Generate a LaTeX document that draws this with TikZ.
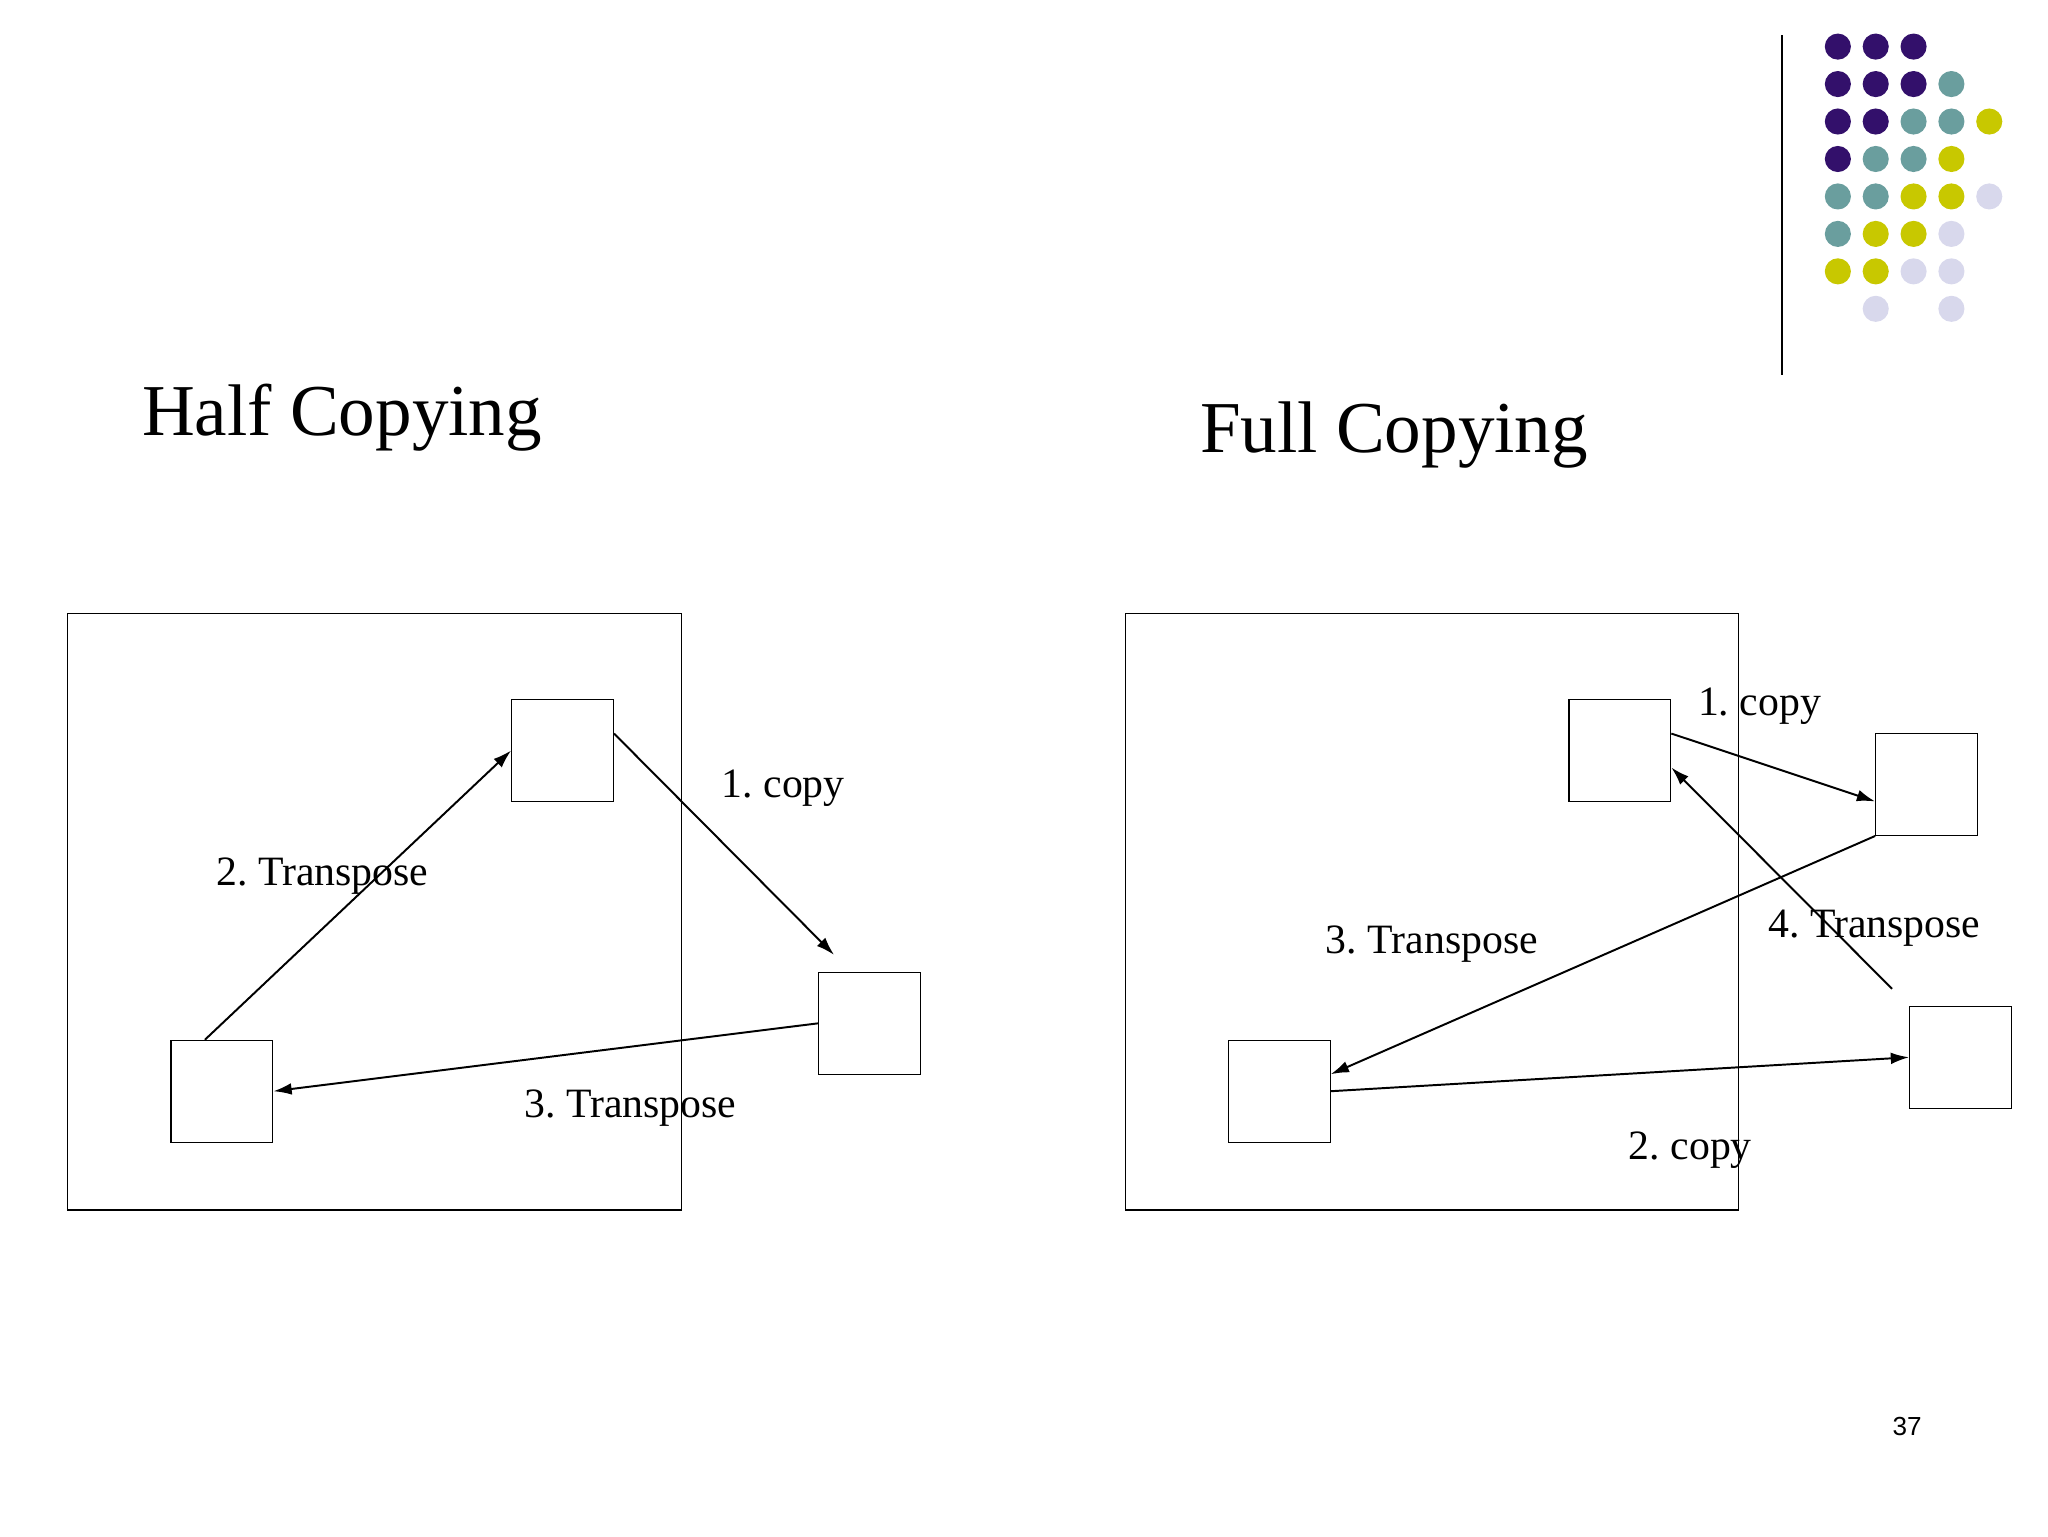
\documentclass[tikz,border=0pt]{standalone}
\usepackage{fontspec}
\setmainfont{Liberation Serif}
\newfontfamily\pagefont{Liberation Sans}
\frenchspacing
\usetikzlibrary{arrows.meta}
\definecolor{dpurple}{HTML}{33106B}
\definecolor{dteal}{HTML}{6A9E9E}
\definecolor{dyellow}{HTML}{C8C800}
\definecolor{dlav}{HTML}{D8D8EC}
\begin{document}
\begin{tikzpicture}[x=1pt, y=-1pt, thick,
	cell/.style = {draw, line width=0.9pt, minimum size=78pt, inner sep=0pt},
	frame/.style = {draw, line width=0.9pt, minimum width=470pt, minimum height=457pt, inner sep=0pt},
	lbl/.style = {font=\fontsize{32}{34}\selectfont},
	title/.style = {font=\fontsize{56}{60}\selectfont},
	arr/.style = {-{Latex[length=14pt,width=9pt]}, line width=1.5pt}]
	\useasboundingbox (0,0) rectangle (1569,1177);

	% dots
	\foreach \c [count=\r] in {{1,1,1,0,0},{1,1,1,2,0},{1,1,2,2,3},{1,2,2,3,0},{2,2,3,3,4},{2,3,3,4,0},{3,3,4,4,0},{0,4,0,4,0}}
		\foreach \k [count=\i] in \c {
			\ifnum\k=1 \fill[dpurple] (1379+29*\i, 7+28.7*\r) circle (10);\fi
			\ifnum\k=2 \fill[dteal] (1379+29*\i, 7+28.7*\r) circle (10);\fi
			\ifnum\k=3 \fill[dyellow] (1379+29*\i, 7+28.7*\r) circle (10);\fi
			\ifnum\k=4 \fill[dlav] (1379+29*\i, 7+28.7*\r) circle (10);\fi
		};
	\coordinate (t) at (1365,27);
	\coordinate (b) at (1365,287);
	\draw[line width=1.5pt] (t) -- (b);

	\node[title] (half) at (262,320) {Half Copying};
	\node[title] (full) at (1068,333) {Full Copying};
	\node[font=\pagefont\fontsize{20}{22}\selectfont] (pg) at (1461,1093) {37};

	% half copying
	\node[frame] (F1) at (287,698.5) {};
	\node[cell] (A) at (431,575) {};
	\node[cell] (B) at (666,784) {};
	\node[cell] (C) at (170,836) {};
	\draw[arr] ([yshift=13pt]A.east) -- ([shift={(-27pt,13pt)}]B.north);
	\draw[arr] (B.west) -- (C.east);
	\draw[arr] ([xshift=-13pt]C.north) -- (A.west);
	\node[lbl] (l1) at (600,604) {1. copy};
	\node[lbl] (l2) at (247,671) {2. Transpose};
	\node[lbl] (l3) at (483,849) {3. Transpose};

	% full copying
	\node[frame] (F2) at (1097,698.5) {};
	\node[cell] (D) at (1241,575) {};
	\node[cell] (E) at (1476,601) {};
	\node[cell] (F) at (980,836) {};
	\node[cell] (G) at (1502,810) {};
	\draw[arr] ([yshift=13pt]D.east) -- ([yshift=-13pt]E.west);
	\draw[arr] (E.south west) -- ([yshift=13pt]F.east);
	\draw[arr] (F.east) -- (G.west);
	\draw[arr] ([shift={(-13pt,13pt)}]G.north west) -- ([yshift=-13pt]D.east);
	\node[lbl] (m1) at (1348,541) {1. copy};
	\node[lbl] (m2) at (1295,881) {2. copy};
	\node[lbl] (m3) at (1097,723) {3. Transpose};
	\node[lbl] (m4) at (1436,711) {4. Transpose};
\end{tikzpicture}
\end{document}
